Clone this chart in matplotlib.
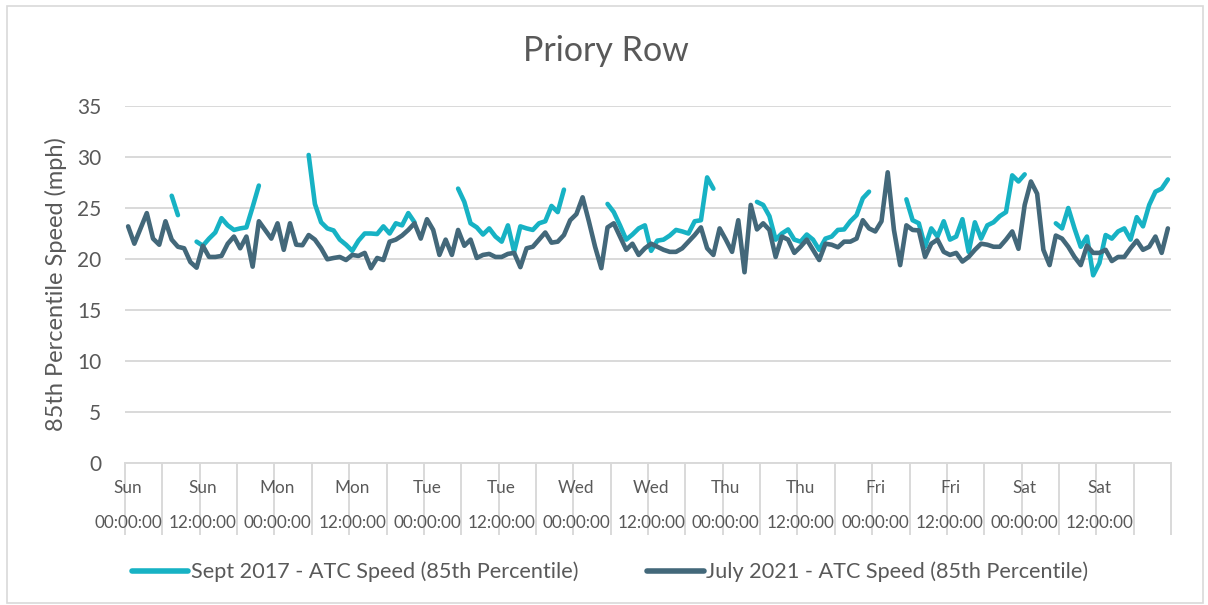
import numpy as np
import matplotlib
matplotlib.use("Agg")
import matplotlib.pyplot as plt
from matplotlib.lines import Line2D
from matplotlib.patches import Rectangle

nan = np.nan
title = "Priory Row"
ylabel = "85th Percentile Speed (mph)"
series_names = ["Sept 2017 - ATC Speed (85th Percentile)",
                "July 2021 - ATC Speed (85th Percentile)"]
days = ["Sun", "Mon", "Tue", "Wed", "Thu", "Fri", "Sat"]
times = ["00:00:00", "12:00:00"]

# hourly values, Sunday 00:00 -> Saturday 23:00 (168 points)
sept2017 = [
    nan, nan, nan, nan, nan, nan, nan, 26.2, 24.3, nan, nan, 21.7,           # 0-11
    21.3, 22.0, 22.6, 24.0, 23.3, 22.85, 23.0, 23.1, 25.1, 27.2,             # 12-21
    nan, nan, nan, nan, nan, nan, nan, 30.2, 25.4, 23.6, 23.0, 22.8,         # 22-33
    21.9, 21.4, 20.8, 21.8, 22.5, 22.5, 22.45, 23.2, 22.5, 23.5, 23.3, 24.5, # 34-45
    23.6, nan, nan, nan, nan, nan, nan, 26.9, 25.6, 23.5, 23.1, 22.4,        # 46-57
    23.0, 22.2, 21.7, 23.3, 20.7, 23.2, 23.0, 22.85, 23.5, 23.7, 25.2, 24.6, # 58-69
    26.8, nan, nan, nan, nan, nan, nan, 25.4, 24.6, 23.3, 21.9, 22.4,        # 70-81
    23.0, 23.3, 20.8, 21.8, 21.9, 22.3, 22.85, 22.7, 22.5, 23.7, 23.8, 28.0, # 82-93
    26.9, nan, nan, nan, nan, nan, nan, 25.6, 25.3, 24.2, 21.9, 22.5,        # 94-105
    22.9, 21.9, 21.7, 22.4, 21.9, 20.9, 22.0, 22.2, 22.85, 22.9, 23.7, 24.3, # 106-117
    25.95, 26.6, nan, nan, nan, nan, nan, 25.85, 23.8, 23.5, 21.2, 23.0,     # 118-129
    22.2, 23.7, 21.9, 22.2, 23.9, 20.7, 23.6, 22.0, 23.3, 23.6, 24.2, 24.6,  # 130-141
    28.2, 27.6, 28.3, nan, nan, nan, nan, 23.5, 23.0, 25.0, 23.0, 21.2,      # 142-153
    22.2, 18.4, 19.6, 22.35, 22.0, 22.7, 23.0, 21.9, 24.1, 23.2, 25.3, 26.6, # 154-165
    26.9, 27.8,                                                               # 166-167
]

july2021 = [
    23.2, 21.5, 23.0, 24.5, 22.0, 21.4, 23.7, 21.9, 21.2, 21.05, 19.7, 19.15, # 0-11
    21.3, 20.2, 20.2, 20.3, 21.5, 22.2, 21.05, 22.2, 19.25, 23.7, 22.85, 22.0, # 12-23
    23.5, 20.9, 23.5, 21.4, 21.35, 22.35, 21.9, 21.05, 19.97, 20.1, 20.2, 19.9, # 24-35
    20.4, 20.3, 20.6, 19.1, 20.1, 19.9, 21.7, 21.9, 22.3, 22.85, 23.5, 22.0,   # 36-47
    23.9, 22.85, 20.4, 21.9, 20.4, 22.85, 21.3, 21.9, 20.1, 20.4, 20.5, 20.2,  # 48-59
    20.2, 20.5, 20.6, 19.2, 21.05, 21.2, 21.9, 22.6, 21.6, 21.7, 22.35, 23.8,  # 60-71
    24.4, 26.05, 23.7, 21.2, 19.1, 23.1, 23.5, 22.2, 20.9, 21.5, 20.4, 21.05,  # 72-83
    21.5, 21.2, 20.9, 20.7, 20.7, 21.05, 21.7, 22.35, 23.1, 21.05, 20.4, 23.0, # 84-95
    21.9, 20.7, 23.8, 18.7, 25.3, 22.9, 23.5, 22.85, 20.2, 22.2, 21.9, 20.6,   # 96-107
    21.2, 21.9, 20.9, 19.9, 21.5, 21.4, 21.15, 21.7, 21.7, 22.0, 23.8, 23.0,   # 108-119
    22.7, 23.7, 28.5, 22.85, 19.4, 23.3, 22.85, 22.8, 20.2, 21.5, 21.9, 20.7,  # 120-131
    20.4, 20.6, 19.75, 20.2, 20.9, 21.5, 21.4, 21.2, 21.2, 21.9, 22.7, 21.0,   # 132-143
    25.3, 27.6, 26.4, 20.9, 19.4, 22.3, 22.0, 21.2, 20.2, 19.4, 21.3, 20.6,    # 144-155
    20.6, 20.9, 19.8, 20.2, 20.2, 21.05, 21.8, 20.9, 21.2, 22.2, 20.6, 23.0,   # 156-167
]

teal = "#17B2C4"
dark = "#43687A"
grid_c = "#D9D9D9"
text_c = "#595959"
font = "Lato"

W, H, DPI = 1208, 605, 100
fig = plt.figure(figsize=(W / DPI, H / DPI), dpi=DPI)
L, R, T, B = 125, 1171, 106, 463
ax = fig.add_axes([L / W, 1 - B / H, (R - L) / W, (B - T) / H])

x = np.arange(len(july2021))
ax.plot(x, sept2017, color=teal, lw=3.3, solid_capstyle="round",
        solid_joinstyle="round", zorder=3)
ax.plot(x, july2021, color=dark, lw=3.3, solid_capstyle="round",
        solid_joinstyle="round", zorder=4)

ax.set_xlim(-0.5, len(x) - 0.5)
ax.set_ylim(0, 35)
ax.set_yticks(np.arange(0, 36, 5))
ax.yaxis.grid(True, color=grid_c, lw=1.4)
ax.set_axisbelow(True)
for s in ["left", "right", "top"]:
    ax.spines[s].set_visible(False)
ax.spines["bottom"].set_color(grid_c)
ax.spines["bottom"].set_linewidth(1.4)
ax.tick_params(axis="y", length=0, labelsize=15, labelcolor=text_c, pad=17)
for lab in ax.get_yticklabels():
    lab.set_fontfamily(font)

# category boundary ticks every 6 hours
bounds = np.arange(-0.5, len(x), 6)
ax.set_xticks(bounds)
ax.set_xticklabels([])
ax.tick_params(axis="x", length=52, width=1.4, color=grid_c, direction="out")

# two-level labels every 12 hours at category centres
trans = ax.get_xaxis_transform()
for k, pos in enumerate(range(0, len(x), 12)):
    ax.text(pos, -0.07, days[k // 2], transform=trans, ha="center", va="center",
            fontsize=12.3, color=text_c, family=font)
    ax.text(pos, -0.168, times[k % 2], transform=trans, ha="center", va="center",
            fontsize=12.3, color=text_c, family=font)

ax.set_ylabel(ylabel, fontsize=17, color=text_c, family=font)
ax.yaxis.set_label_coords(-58 / (R - L), 0.5)

fig.text(606 / W, 1 - 51 / H, title, ha="center", va="center", fontsize=24.5,
         color=text_c, family=font)

handles = [Line2D([], [], color=teal, lw=4, solid_capstyle="round"),
           Line2D([], [], color=dark, lw=4, solid_capstyle="round")]
leg = fig.legend(handles, series_names, loc="center", ncol=2,
                 bbox_to_anchor=(610 / W, 1 - 572 / H), frameon=False,
                 handlelength=2.6, handletextpad=0.1, columnspacing=3.2,
                 prop={"family": font, "size": 15.6})
for t in leg.get_texts():
    t.set_color(text_c)

fig.patches.append(Rectangle((7 / W, 2 / H), 1196 / W, 597 / H,
                             transform=fig.transFigure, fill=False,
                             edgecolor="#D9D9D9", lw=1.2))

fig.savefig("out.png", dpi=DPI)
